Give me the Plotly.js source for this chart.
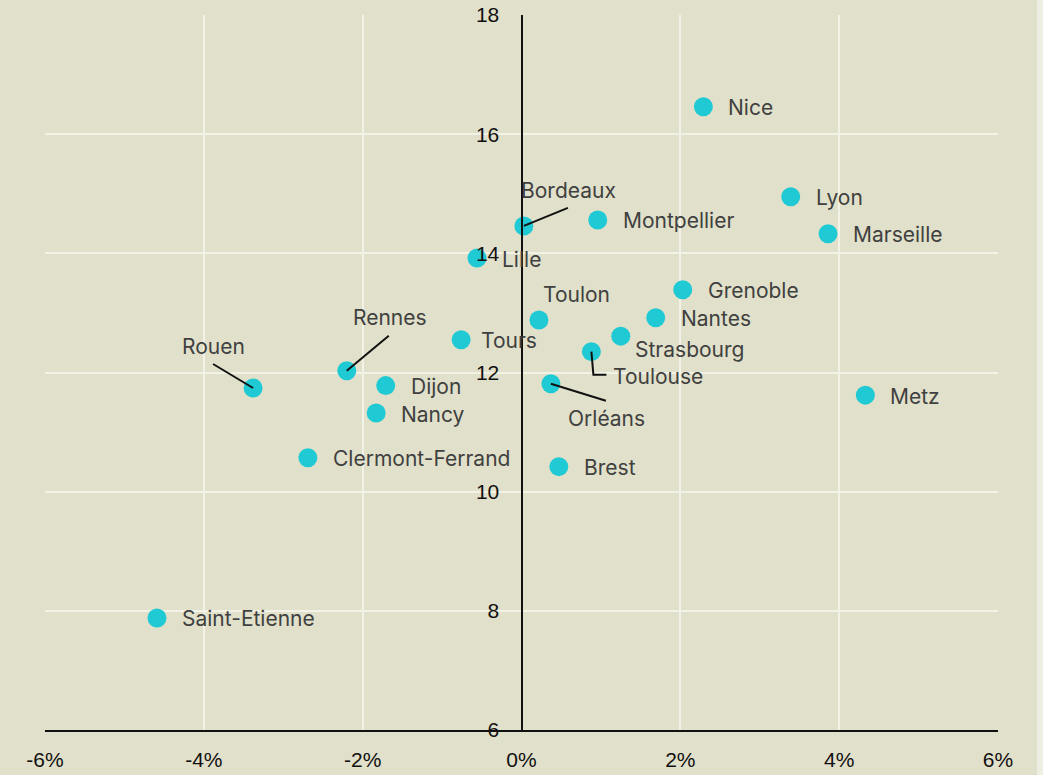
<!DOCTYPE html>
<html>
<head>
<meta charset="utf-8">
<script src="https://cdn.plot.ly/plotly-3.0.1.min.js"></script>
<style>html,body{margin:0;padding:0;background:#e1e0ca;}</style>
</head>
<body>
<div id="chart" style="width:1043px;height:775px;"></div>
<script>
// ---- data ----
var cities = ["Nice","Lyon","Marseille","Montpellier","Bordeaux","Lille","Grenoble","Toulon","Nantes","Strasbourg","Tours","Toulouse","Rennes","Dijon","Orléans","Rouen","Metz","Nancy","Clermont-Ferrand","Brest","Saint-Etienne"];
var growth = [2.29, 3.39, 3.86, 0.96, 0.03, -0.56, 2.03, 0.22, 1.69, 1.25, -0.76, 0.88, -2.20, -1.71, 0.37, -3.38, 4.33, -1.83, -2.69, 0.47, -4.59];
var values = [16.46, 14.95, 14.33, 14.56, 14.46, 13.92, 13.39, 12.88, 12.92, 12.61, 12.55, 12.35, 12.03, 11.78, 11.81, 11.74, 11.62, 11.32, 10.57, 10.42, 7.88];
var xTickVals = [-6, -4, -2, 0, 2, 4, 6];
var xTickText = ["-6%", "-4%", "-2%", "0%", "2%", "4%", "6%"];
var yTickVals = [6, 8, 10, 12, 14, 16, 18];

// ---- label placement (pixel offsets from the point) ----
var defaultLabel = {dx: 23, dy: -1, anchor: "left"};
var labelPlace = {
  "Bordeaux":   {dx: -5, dy: 35, anchor: "left"},
  "Toulon":     {dx: 2, dy: 26, anchor: "left"},
  "Strasbourg": {dx: 12, dy: -13, anchor: "left"},
  "Toulouse":   {dx: 20, dy: -25, anchor: "left"},
  "Rennes":     {dx: 4, dy: 53, anchor: "left"},
  "Orléans":    {dx: 15, dy: -35, anchor: "left"},
  "Rouen":      {dx: -6, dy: 41, anchor: "right"},
  "Tours":      {dx: 18, dy: -1, anchor: "left"}
};
var leaders = {
  "Bordeaux": "M0,0 L44,18",
  "Rennes":   "M0,0 L42,35",
  "Rouen":    "M0,0 L-40,24",
  "Orléans":  "M0,0 L55,-17",
  "Toulouse": "M0,0 L2,-23 L15,-23"
};

var bg = "#e1e0ca";
var grid = "#f3f2e6";
var labelFont = {family: "Inter, 'Open Sans', sans-serif", size: 21, color: "#404040"};
var tickFont = {family: "'Liberation Sans', Arial, sans-serif", size: 21, color: "#111111"};

var annotations = [];
var shapes = [];
for (var i = 0; i < cities.length; i++) {
  var p = labelPlace[cities[i]] || defaultLabel;
  annotations.push({
    x: growth[i], y: values[i], xref: "x", yref: "y",
    text: cities[i], showarrow: false,
    xanchor: p.anchor, yanchor: "middle",
    xshift: p.dx, yshift: p.dy,
    font: labelFont
  });
  if (leaders[cities[i]]) {
    shapes.push({
      type: "path", xref: "x", yref: "y",
      xsizemode: "pixel", ysizemode: "pixel",
      xanchor: growth[i], yanchor: values[i],
      path: leaders[cities[i]],
      line: {color: "#111111", width: 2}
    });
  }
}
shapes.push({
  type: "rect", xref: "paper", yref: "paper", layer: "below",
  x0: 1.041, x1: 1.06, y0: -0.1, y1: 1.1,
  fillcolor: "#eeeee3", line: {width: 0}
});

var trace = {
  type: "scatter", mode: "markers",
  x: growth, y: values, text: cities,
  marker: {size: 19, color: "#20cad4"},
  hoverinfo: "text"
};

var layout = {
  width: 1043, height: 775,
  margin: {l: 45, r: 45, t: 15, b: 45},
  paper_bgcolor: bg, plot_bgcolor: bg,
  showlegend: false,
  xaxis: {
    range: [-6, 6], tickvals: xTickVals, ticktext: xTickText,
    showgrid: true, gridcolor: grid, gridwidth: 2,
    zeroline: false, showline: true, linecolor: "#111111", linewidth: 2,
    ticks: "", ticklabelstandoff: 10, tickfont: tickFont
  },
  yaxis: {
    range: [6, 18], tickvals: yTickVals,
    anchor: "free", position: 0.5,
    showgrid: true, gridcolor: grid, gridwidth: 2,
    zeroline: false, showline: true, linecolor: "#111111", linewidth: 2,
    ticks: "", ticklabelstandoff: 17, tickfont: tickFont
  },
  annotations: annotations,
  shapes: shapes
};

Plotly.newPlot("chart", [trace], layout, {displayModeBar: false, staticPlot: true});
</script>
</body>
</html>
